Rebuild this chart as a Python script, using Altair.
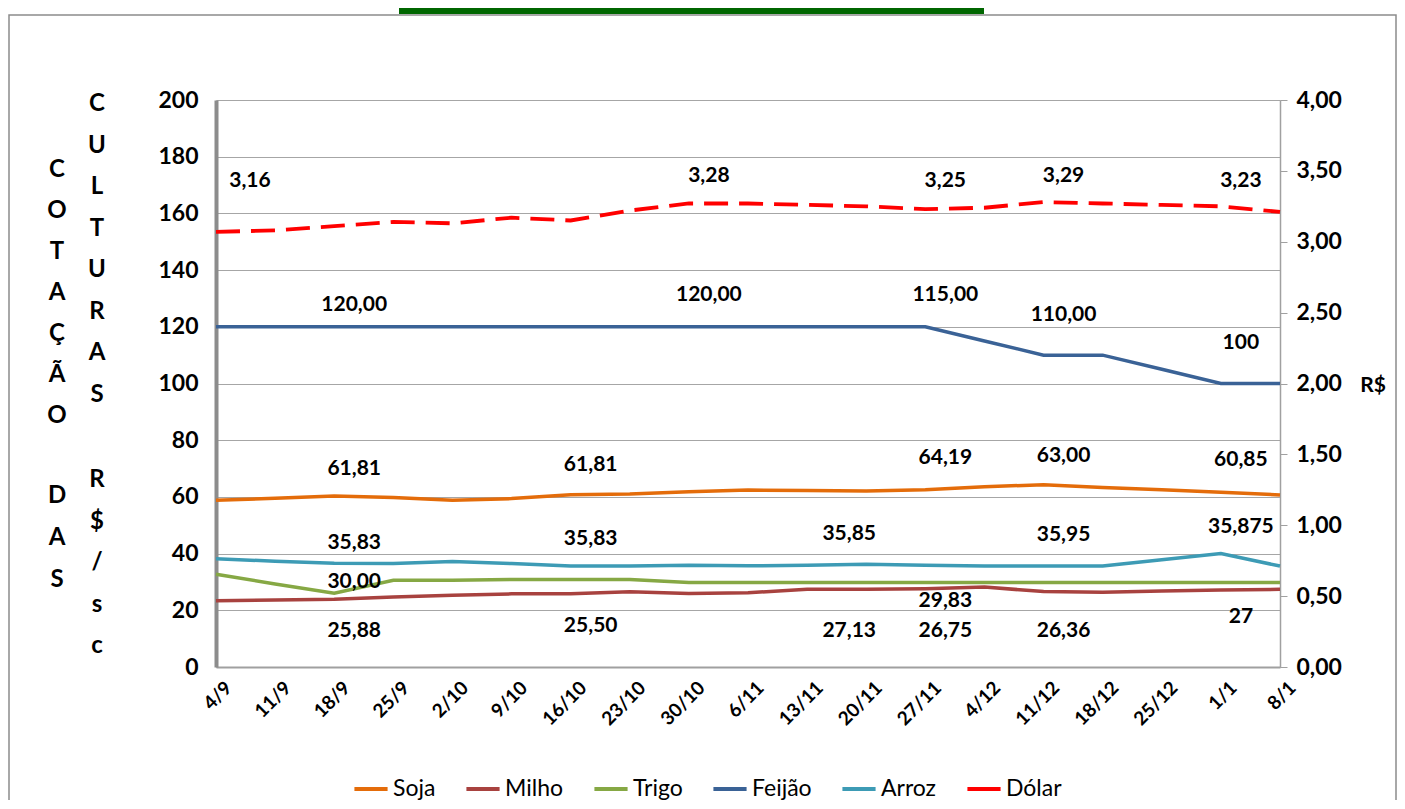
import altair as alt
import pandas as pd

# ---------------- data ----------------
dates = ["4/9", "11/9", "18/9", "25/9", "2/10", "9/10", "16/10", "23/10", "30/10",
         "6/11", "13/11", "20/11", "27/11", "4/12", "11/12", "18/12", "25/12", "1/1", "8/1"]

soja = [58.8, 59.5, 60.3, 59.8, 58.8, 59.4, 60.8, 61.0, 61.8, 62.4,
        62.3, 62.1, 62.5, 63.6, 64.3, 63.3, 62.5, 61.6, 60.7]
milho = [23.4, 23.6, 23.9, 24.7, 25.3, 25.8, 25.8, 26.5, 25.9, 26.2,
         27.4, 27.4, 27.6, 28.2, 26.6, 26.4, 26.8, 27.2, 27.4]
trigo = [32.7, 29.3, 26.0, 30.6, 30.6, 30.9, 30.9, 30.9, 29.8, 29.8,
         29.8, 29.8, 29.8, 29.8, 29.8, 29.8, 29.8, 29.8, 29.8]
feijao = [120, 120, 120, 120, 120, 120, 120, 120, 120, 120,
          120, 120, 120, 115, 110, 110, 105, 100, 100]
arroz = [38.2, 37.3, 36.6, 36.5, 37.2, 36.5, 35.6, 35.6, 35.9, 35.7,
         35.9, 36.2, 35.9, 35.6, 35.6, 35.6, 37.8, 40.0, 35.6]
dolar = [3.07, 3.08, 3.11, 3.14, 3.13, 3.17, 3.15, 3.22, 3.27, 3.27,
         3.26, 3.25, 3.23, 3.24, 3.28, 3.27, 3.26, 3.25, 3.21]

series_names = ["Soja", "Milho", "Trigo", "Feijão", "Arroz", "Dólar"]
series_colors = ["#E46C0A", "#A8423F", "#86A844", "#3A6296", "#3D9BB5", "#FF0000"]

# data labels (category, anchor value on left axis, text)
label_dates = ["4/9", "30/10", "27/11", "11/12", "1/1",
               "18/9", "30/10", "27/11", "11/12", "1/1",
               "18/9", "16/10", "27/11", "11/12", "1/1",
               "18/9", "16/10", "20/11", "11/12", "1/1",
               "18/9", "27/11",
               "18/9", "16/10", "20/11", "27/11", "11/12", "1/1"]
label_anchor = [171.4, 173.2, 171.4, 173.2, 171.4,
                127.7, 131.2, 131.2, 124.2, 114.3,
                69.8, 71.3, 73.7, 74.4, 73.0,
                43.7, 45.1, 46.9, 46.6, 49.4,
                30.0, 23.3,
                12.7, 14.5, 12.7, 12.7, 12.7, 17.6]
label_text = ["3,16", "3,28", "3,25", "3,29", "3,23",
              "120,00", "120,00", "115,00", "110,00", "100",
              "61,81", "61,81", "64,19", "63,00", "60,85",
              "35,83", "35,83", "35,85", "35,95", "35,875",
              "30,00", "29,83",
              "25,88", "25,50", "27,13", "26,75", "26,36", "27"]

title_col1_a = ["C", "O", "T", "A", "Ç", "Ã", "O"]
title_col1_b = ["D", "A", "S"]
title_col2_a = ["C", "U", "L", "T", "U", "R", "A", "S"]
title_col2_b = ["R", "$", "/", "s", "c"]

# ---------------- tables ----------------
rows = []
for name, vals in zip(series_names[:5], [soja, milho, trigo, feijao, arroz]):
    for d, v in zip(dates, vals):
        rows.append({"data": d, "serie": name, "valor": v})
crops = pd.DataFrame(rows)
dol = pd.DataFrame({"data": dates, "serie": ["Dólar"] * len(dates), "valor": dolar})
labels = pd.DataFrame({"data": label_dates, "pos": label_anchor, "texto": label_text})
dummy = pd.DataFrame({"a": [0]})

FONT = "Lato"

x_enc = alt.X(
    "data:N", sort=dates,
    scale=alt.Scale(type="point", padding=0),
    axis=alt.Axis(title=None, labelAngle=-45, labelFont=FONT, labelFontSize=19,
                  labelFontWeight="bold", labelColor="black", labelPadding=11,
                  labelOffset=6,
                  ticks=False, domainColor="#a0a0a0", domainWidth=2, grid=False),
)
color_enc = alt.Color(
    "serie:N",
    scale=alt.Scale(domain=series_names, range=series_colors),
    legend=alt.Legend(orient="none", legendX=136, legendY=670, direction="horizontal",
                      title=None, symbolType="stroke", symbolStrokeWidth=4,
                      symbolSize=1100, labelFont=FONT, labelFontSize=23,
                      labelColor="black", columnPadding=22, labelOffset=3),
)

left_scale = alt.Scale(domain=[0, 200])

lines = alt.Chart(crops).mark_line(strokeWidth=3.5).encode(
    x=x_enc,
    y=alt.Y("valor:Q", scale=left_scale,
            axis=alt.Axis(title=None, values=list(range(0, 201, 20)), grid=True,
                          gridColor="#a6a6a6", gridWidth=1.2, domainColor="#8c8c8c",
                          domainWidth=4, ticks=False, labelFont=FONT, labelFontSize=23,
                          labelFontWeight="bold", labelColor="black", labelPadding=18)),
    color=color_enc,
)


def label_text_layer(filter_expr, shift):
    return alt.Chart(labels).transform_filter(filter_expr).mark_text(
        font=FONT, fontSize=21, fontWeight="bold", color="black", dx=shift
    ).encode(
        x=alt.X("data:N", sort=dates),
        y=alt.Y("pos:Q", scale=left_scale),
        text="texto:N",
    )


labels_main = label_text_layer("datum.data != '4/9' && datum.data != '20/11'", 20)
labels_first = label_text_layer("datum.data == '4/9'", 34)
labels_before = label_text_layer("datum.data == '20/11'", -17)


def letters(txt, xpos, ypos, lh):
    return alt.Chart(dummy).mark_text(
        text=txt, font=FONT, fontSize=24, fontWeight="bold", color="black",
        lineHeight=lh, baseline="top", align="center"
    ).encode(x=alt.value(xpos), y=alt.value(ypos))


col1a = letters(title_col1_a, -159, 58, 41)
col1b = letters(title_col1_b, -159, 384, 42)
col2a = letters(title_col2_a, -119, -8, 41.5)
col2b = letters(title_col2_b, -119, 368, 41.5)

rs = alt.Chart(dummy).mark_text(
    text="R$", font=FONT, fontSize=21, fontWeight="bold", color="black", align="center"
).encode(x=alt.value(1157), y=alt.value(286))

frame = alt.Chart(dummy).mark_rect(filled=False, stroke="#8c8c8c", strokeWidth=1.5).encode(
    x=alt.value(-207), x2=alt.value(1180), y=alt.value(-85), y2=alt.value(760)
)
green_bar = alt.Chart(dummy).mark_rect(color="#006600").encode(
    x=alt.value(183), x2=alt.value(768), y=alt.value(-92), y2=alt.value(-86)
)

left_group = alt.layer(frame, green_bar, lines, labels_main, labels_first, labels_before,
                       col1a, col1b, col2a, col2b, rs)

dollar_line = alt.Chart(dol).mark_line(strokeWidth=3.8, strokeDash=[24, 11]).encode(
    x=x_enc,
    y=alt.Y("valor:Q", scale=alt.Scale(domain=[0, 4]),
            axis=alt.Axis(orient="right", title=None, values=[0, 0.5, 1, 1.5, 2, 2.5, 3, 3.5, 4],
                          labelExpr="replace(format(datum.value, '.2f'), '.', ',')",
                          grid=False, ticks=True, tickSize=7, tickColor="#a0a0a0",
                          domainColor="#a0a0a0", domainWidth=1.5, labelPadding=9,
                          labelFont=FONT, labelFontSize=23, labelFontWeight="bold",
                          labelColor="black")),
    color=color_enc,
)

chart = alt.layer(left_group, dollar_line).resolve_scale(y="independent").properties(
    width=1064, height=567,
    autosize=alt.AutoSizeParams(type="none"),
    padding={"left": 208, "top": 92, "right": 117, "bottom": 133},
).configure_view(stroke=None).configure(background="white")

chart.save("out.html", embed_options={"renderer": "svg", "actions": False})
